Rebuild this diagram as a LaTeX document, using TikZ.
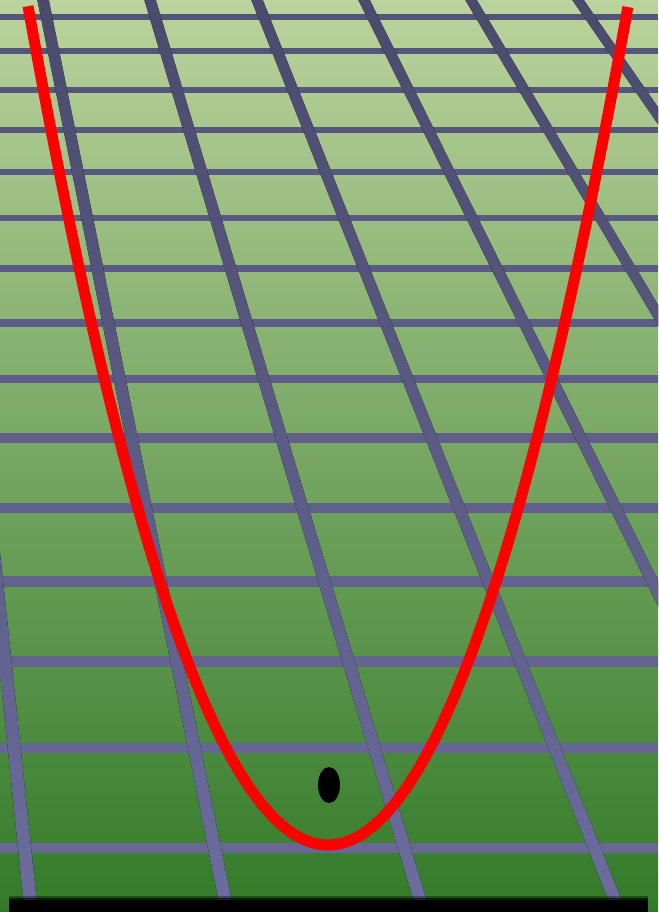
\documentclass[tikz,border=0pt]{standalone}
\usetikzlibrary{calc}
\definecolor{bgtop}{RGB}{187,211,157}
\definecolor{bgmid}{RGB}{136,176,97}
\definecolor{bgbot}{RGB}{50,122,40}
\definecolor{htop}{RGB}{84,84,122}
\definecolor{hbot}{RGB}{106,106,154}
\definecolor{vtop}{RGB}{74,74,108}
\definecolor{vbot}{RGB}{108,108,158}
\definecolor{curvered}{RGB}{255,0,0}
\tikzset{
  hline/.style={line cap=butt},
  vband/.style={top color=vtop, bottom color=vbot},
  curve/.style={curvered, line width=11pt, line cap=butt},
  bar/.style={fill=black}
}
\begin{document}
\begin{tikzpicture}[x=1pt,y=-1pt]
\useasboundingbox (0,0) rectangle (658,912);
\begin{scope}
\clip (0,0) rectangle (658,912);
% background
\shade[top color=bgtop, middle color=bgmid, bottom color=bgbot] (0,0) rectangle (658,912);
% horizontal grid lines
\foreach \y/\w in {17/5.5, 51/5.5, 90/5.5, 130/5.5, 172/6, 218/6.5, 268/7, 323/7.5, 379/8, 438/10, 508/10, 581/11, 661/11, 748/10, 848/10}{
  \pgfmathtruncatemacro\p{\y/912*100}
  \draw[hline, line width=\w pt, color=hbot!\p!htop] (0,\y) -- (658,\y);
}
% converging grid lines (vanishing point at (-178,-1094))
\foreach \i in {0,...,6}{
  \pgfmathsetmacro\xb{30+195*\i}
  \pgfmathsetmacro\ft{(-10+1094)/1994}
  \pgfmathsetmacro\fb{(912+1094)/1994}
  \pgfmathsetmacro\xt{-178+(\xb+178)*\ft}
  \pgfmathsetmacro\xbb{-178+(\xb+178)*\fb}
  \pgfmathsetmacro\wt{5.7}
  \pgfmathsetmacro\wb{6.6}
  \fill[vband] (\xt-\wt,-10) -- (\xt+\wt,-10) -- (\xbb+\wb,912) -- (\xbb-\wb,912) -- cycle;
}
% parabola
\draw[curve] plot[domain=-3:3, samples=121, smooth] ({328+100*\x},{845-93.2*\x*\x});
% dot
\fill[black] (329,785) ellipse [x radius=11, y radius=18];
\coordinate (dot) at (329,785);
% bottom bar
\fill[black, opacity=0.35] (9,896) rectangle (648,899);
\fill[black, opacity=0.7] (9,898) rectangle (648,900);
\fill[bar] (9,900) rectangle (648,912);
\end{scope}
\end{tikzpicture}
\end{document}
